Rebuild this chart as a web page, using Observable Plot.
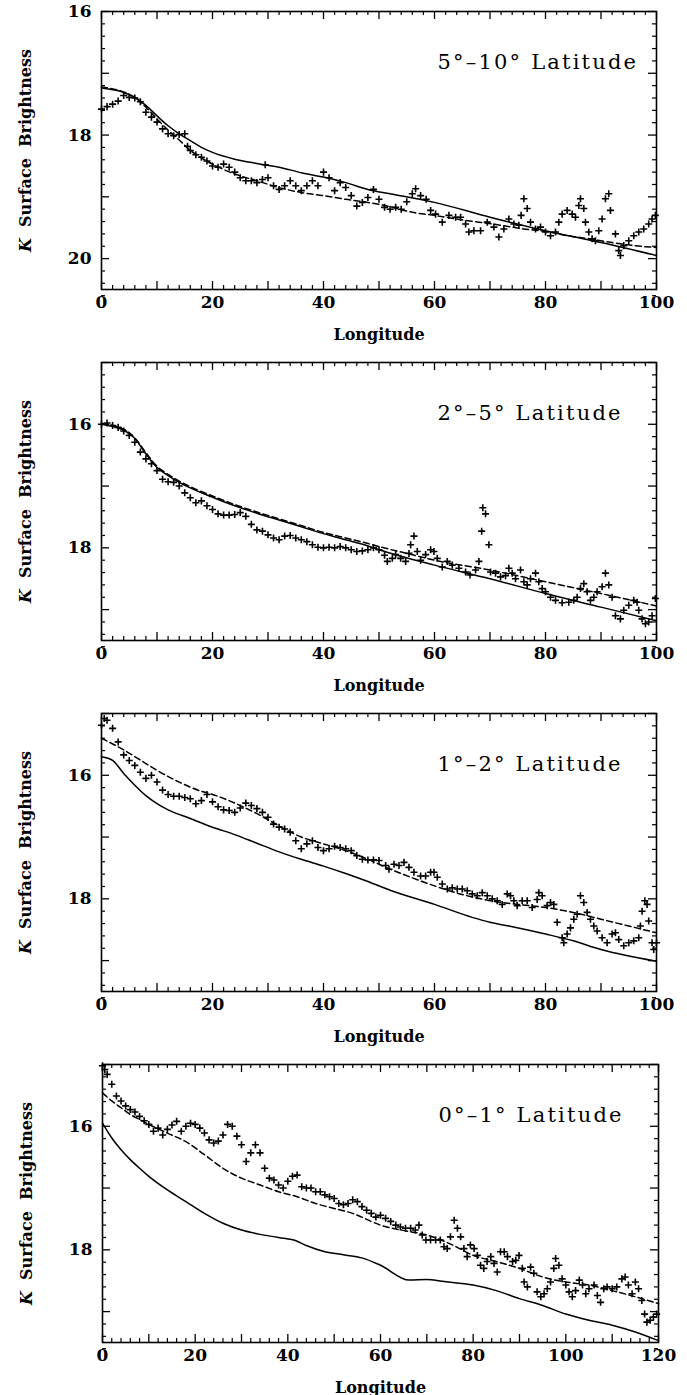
<!DOCTYPE html>
<html>
<head>
<meta charset="utf-8">
<script src="https://cdn.jsdelivr.net/npm/d3@7"></script>
<script src="https://cdn.jsdelivr.net/npm/@observablehq/plot@0.6"></script>
<style>
  html, body { margin: 0; padding: 0; background: #fff; }
  #chart svg { display: block; }
</style>
</head>
<body>
<div id="chart"></div>
<script>
// ---------- tick labels & titles ----------
const xLabels100 = [0, 20, 40, 60, 80, 100];
const xLabels120 = [0, 20, 40, 60, 80, 100, 120];
const yLabelsP1 = [16, 18, 20];
const yLabelsP234 = [16, 18];
const titles = ["5°–10° Latitude", "2°–5° Latitude", "1°–2° Latitude", "0°–1° Latitude"];
const xTitle = "Longitude";
const yTitle = "K  Surface  Brightness";

// ---------- Panel 1 (5°–10°) ----------
const p1DataLon = [0,1,2,3,4,5,6,7,8,9,10,11,12,13,14,15,15.5,16,17,18,19,20,21,22,23,24,25,26,27,28,29,29.5,30,31,32,33,34,35,36,37,38,39,40,41,42,43,44,45,46,47,48,49,50,51,52,53,54,55,56,56.6,57.5,58.5,59.3,60.2,61.4,62.6,63.8,64.7,65.6,66.2,67.1,68.3,69.5,70.7,71.6,72.5,73.4,74.3,75.2,75.6,76.1,76.7,77.3,78.2,79.1,80,80.9,81.8,82.4,83,83.9,84.8,85.4,86,86.3,86.9,87.2,87.8,88.4,89,89.6,90.2,90.8,91.4,91.7,92.6,93.2,93.5,94.1,95,95.9,96.8,97.7,98.6,99.2,99.8];
const p1DataK = [17.58,17.54,17.50,17.45,17.36,17.39,17.40,17.46,17.63,17.71,17.79,17.90,17.98,18.01,17.99,17.98,18.18,18.25,18.32,18.36,18.42,18.50,18.52,18.47,18.52,18.60,18.69,18.74,18.74,18.77,18.72,18.48,18.69,18.82,18.88,18.82,18.74,18.82,18.90,18.82,18.74,18.82,18.60,18.69,18.90,18.77,18.85,18.98,19.15,19.09,19.01,18.88,19.04,19.17,19.20,19.17,19.20,19.08,18.95,18.87,18.98,19.04,19.22,19.28,19.41,19.30,19.33,19.33,19.44,19.57,19.55,19.55,19.41,19.49,19.65,19.52,19.36,19.44,19.46,19.30,19.03,19.19,19.41,19.52,19.49,19.57,19.63,19.57,19.41,19.28,19.22,19.28,19.33,19.14,19.03,19.19,19.41,19.57,19.68,19.71,19.55,19.36,19.03,18.95,19.22,19.60,19.87,19.95,19.79,19.71,19.63,19.57,19.52,19.44,19.36,19.30];
const p1SolidLon = [0,4,6,8,10,12,14,16,18,20,24,28,32,36,40,44,48,52,60,70,80,90,100];
const p1SolidK = [17.24,17.31,17.39,17.52,17.69,17.85,17.98,18.09,18.20,18.28,18.39,18.46,18.52,18.61,18.68,18.77,18.88,18.95,19.09,19.33,19.55,19.74,19.95];
const p1DashLon = [0,6,8,10,12,14,16,18,20,24,28,32,36,40,44,48,52,56,60,64,68,72,76,80,84,88,92,96,100];
const p1DashK = [17.22,17.39,17.55,17.74,17.92,18.08,18.25,18.37,18.47,18.63,18.74,18.85,18.93,18.98,19.04,19.09,19.16,19.25,19.30,19.36,19.41,19.46,19.52,19.56,19.63,19.68,19.74,19.79,19.82];

// ---------- Panel 2 (2°–5°) ----------
const p2DataLon = [0,1,2,3,4,5,6,7,8,9,10,11,12,13,14,15,16,17,18,19,20,21,22,23,24,25,26,27,28,29,30,31,32,33,34,35,36,37,38,39,40,41,42,43,44,45,46,47,48,49,50,51,51.5,52.4,53,53.9,54.8,55.4,55.7,56.3,56.9,57.5,58.4,59.3,59.9,60.5,61.4,62.3,63.2,64.4,65.6,66.4,67.4,68,68.5,68.7,69.2,69.8,70.1,71,71.9,72.8,73.4,74,74.6,75.5,76.1,76.7,77.3,78.2,78.8,79.4,80,80.9,81.8,83,84.2,85.1,85.7,86.3,86.9,87.5,88.1,88.7,89.3,90.2,90.8,91.4,92,92.6,93.5,94.1,95,95.9,96.5,96.8,97.4,98,98.6,99.2,99.8];
const p2DataK = [16.00,15.98,16.02,16.05,16.11,16.18,16.29,16.45,16.56,16.64,16.75,16.89,16.93,16.94,17.00,17.11,17.19,17.27,17.24,17.32,17.38,17.45,17.47,17.47,17.46,17.43,17.49,17.62,17.71,17.73,17.79,17.84,17.87,17.81,17.80,17.84,17.87,17.90,17.95,17.99,18.00,17.99,18.00,17.98,18.00,18.03,18.06,18.05,18.03,18.00,18.03,18.12,18.22,18.17,18.11,18.17,18.22,18.09,17.95,17.81,18.06,18.20,18.11,18.03,18.06,18.17,18.31,18.22,18.28,18.33,18.39,18.44,18.36,18.22,17.73,17.35,17.45,17.95,18.39,18.41,18.47,18.45,18.33,18.41,18.50,18.36,18.55,18.60,18.50,18.41,18.55,18.66,18.71,18.80,18.85,18.89,18.88,18.85,18.80,18.66,18.58,18.71,18.85,18.80,18.71,18.63,18.41,18.60,18.80,19.10,19.15,19.01,18.93,18.85,18.88,19.01,19.15,19.23,19.20,19.10,18.82];
const p2SolidLon = [0,4,6,8,10,12,14,16,20,24,28,32,36,40,44,48,50,60,70,80,90,100];
const p2SolidK = [16.00,16.10,16.23,16.48,16.70,16.83,16.94,17.03,17.18,17.32,17.44,17.55,17.66,17.77,17.87,17.97,18.03,18.28,18.50,18.74,18.96,19.18];
const p2DashLon = [0,4,6,8,10,12,14,16,20,24,28,32,36,40,44,48,50,55,60,70,80,90,100];
const p2DashK = [15.99,16.08,16.22,16.46,16.68,16.81,16.92,17.01,17.16,17.30,17.42,17.53,17.64,17.75,17.84,17.93,17.98,18.09,18.20,18.36,18.55,18.74,18.94];

// ---------- Panel 3 (1°–2°) ----------
const p3DataLon = [0,0.5,1,2,3,4,5,6,7,8,9,10,11,12,13,14,15,16,17,18,19,20,21,22,23,24,25,26,27,28,29,30,31,32,33,34,35,36,37,38,39,40,41,42,43,44,45,46,47,48,49,50,51.2,51.8,52.7,53.6,54.5,55.4,56.3,57.5,58.4,59.3,59.9,60.5,61.4,62.3,63.2,64.1,65,65.9,66.8,67.7,68.6,69.5,70.4,71.3,72.2,73.1,73.7,74.3,74.9,75.8,76.7,77.6,78.5,78.8,79.4,80.3,80.9,81.5,82.1,83,83.3,83.9,84.5,85.1,85.7,86.3,86.9,87.5,88.1,88.7,89.3,90.2,91.1,92,92.6,93.2,94.1,95,95.9,96.8,97.1,97.4,97.9,98.3,98.6,99.2,99.5,100];
const p3DataK = [15.19,15.08,15.11,15.24,15.46,15.67,15.76,15.84,15.95,16.05,16.00,16.11,16.24,16.31,16.34,16.34,16.36,16.38,16.46,16.41,16.31,16.43,16.51,16.56,16.57,16.60,16.53,16.45,16.49,16.54,16.60,16.68,16.79,16.84,16.87,16.92,17.06,17.19,17.11,17.06,17.17,17.22,17.19,17.15,17.17,17.19,17.22,17.30,17.36,17.37,17.37,17.38,17.46,17.52,17.44,17.46,17.41,17.49,17.57,17.63,17.63,17.57,17.57,17.65,17.76,17.84,17.82,17.84,17.84,17.87,17.92,17.95,17.90,17.95,18.00,18.03,18.09,17.92,17.95,18.03,18.11,18.03,18.03,18.14,18.01,17.90,17.95,18.11,18.06,18.09,18.38,18.63,18.71,18.57,18.47,18.33,18.25,17.95,18.06,18.22,18.33,18.44,18.52,18.63,18.71,18.57,18.55,18.66,18.76,18.71,18.68,18.63,18.44,18.20,18.03,18.09,18.36,18.71,18.82,18.71];
const p3SolidLon = [0,2,4,6,8,10,12,16,20,24,28,32,36,40,44,48,52,60,66.8,70,73.4,80,85,90,100];
const p3SolidK = [15.70,15.76,15.97,16.16,16.33,16.46,16.56,16.70,16.84,16.96,17.10,17.24,17.36,17.47,17.59,17.72,17.86,18.09,18.30,18.38,18.44,18.57,18.68,18.82,19.01];
const p3DashLon = [0,4,8,10,14,18,20,24,28,32,36,40,44,48,52,56,60,65,70,75,80,85,90,95,100];
const p3DashK = [15.40,15.59,15.81,15.92,16.11,16.26,16.31,16.45,16.62,16.82,17.00,17.11,17.22,17.36,17.52,17.66,17.79,17.93,18.03,18.09,18.14,18.22,18.33,18.44,18.55];

// ---------- Panel 4 (0°–1°) ----------
const p4DataLon = [0,0.5,1,2,3,4,5,6,7,8,9,10,11,12,13,14,15,16,17,18,19,20,21,22,23,24,25,26,27,28,29,30,31,32,33,34,35,36,37,38,39,40,41,42,43,44,45,46,47,48,49,50,51,52,53,54,55,56,57,58,59,60,61.1,62.2,63.3,64.3,65.4,66.5,67.5,68.3,69,69.8,70.8,71.9,72.9,73.7,74.4,75.1,75.9,76.6,77.3,78,78.7,79.4,80.2,80.9,81.6,82.3,83,83.8,84.5,85.2,85.9,86.7,87.4,88.5,89.2,89.9,90.6,91,91.7,92.4,93.1,93.8,94.6,95.3,96,96.7,97.4,97.8,98.5,99.2,100,100.7,101.4,102.1,102.9,103.6,104.3,105,106.1,106.8,107.5,108.2,108.9,110,111,112.1,112.8,113.5,114.3,115,115.7,116.4,117,117.5,118.2,118.9,119.6];
const p4DataK = [15.02,15.08,15.16,15.32,15.51,15.59,15.67,15.73,15.77,15.84,15.91,15.97,16.08,16.03,16.14,16.05,15.98,15.92,16.08,16.00,15.95,15.97,16.03,16.11,16.22,16.27,16.24,16.14,15.97,16.00,16.16,16.30,16.57,16.43,16.30,16.43,16.68,16.84,16.87,16.95,17.00,16.89,16.81,16.79,16.98,17.00,17.00,17.06,17.06,17.11,17.14,17.17,17.25,17.27,17.25,17.19,17.22,17.30,17.36,17.41,17.47,17.44,17.49,17.54,17.60,17.63,17.65,17.65,17.68,17.60,17.76,17.84,17.84,17.84,17.84,17.95,17.98,17.79,17.52,17.65,17.79,17.98,18.11,17.92,17.98,18.09,18.25,18.30,18.19,18.11,18.22,18.36,18.03,18.03,18.11,18.19,18.17,18.09,18.30,18.52,18.60,18.28,18.38,18.68,18.76,18.71,18.63,18.52,18.30,18.14,18.25,18.47,18.57,18.68,18.76,18.66,18.49,18.57,18.71,18.63,18.57,18.74,18.85,18.63,18.60,18.63,18.60,18.47,18.44,18.57,18.71,18.52,18.63,18.82,19.04,19.17,19.14,19.09,19.04];
const p4SolidLon = [0,2,4,6,8,10,14,18,22,26,30,34,38,42,44,48,52,56,60,66.2,70,73.3,80,85,90,95,100,105,110,115,120];
const p4SolidK = [15.95,16.19,16.38,16.54,16.68,16.81,17.03,17.22,17.41,17.57,17.68,17.75,17.80,17.86,17.93,18.03,18.08,18.13,18.25,18.49,18.48,18.51,18.57,18.66,18.79,18.90,19.04,19.14,19.22,19.33,19.47];
const p4DashLon = [0,2,4,6,8,10,14,18,22,26,30,34,38,42,46,50,54,58,60,64.5,70,75.5,80,85,90,95,100,105,110,115,120];
const p4DashK = [15.46,15.59,15.70,15.81,15.89,15.97,16.11,16.25,16.46,16.68,16.84,16.95,17.06,17.14,17.25,17.33,17.41,17.54,17.60,17.68,17.76,17.92,18.09,18.19,18.30,18.44,18.52,18.57,18.66,18.76,18.87];

const zipPts = (lon, k) => lon.map((x, i) => ({lon: x, k: k[i]}));

const FONT = "'DejaVu Serif', serif";

function makePanel(cfg) {
  const W = 687, H = 351, mT = 11, mB = 62;
  const mL = cfg.mL, mR = cfg.mR;
  const fw = W - mL - mR, fh = H - mT - mB;
  const [y0, y1] = cfg.yDomain;
  const xMajor = d3.range(0, cfg.xMax + 0.001, 10);
  const xMinor = d3.range(0, cfg.xMax + 0.001, 2).filter(v => v % 10 !== 0);
  const yAll = d3.range(0, Math.round((y1 - y0) / 0.2) + 1).map(i => Math.round((y0 + i * 0.2) * 10) / 10);
  const yMajor = yAll.filter(v => Math.abs(v - Math.round(v)) < 1e-6);
  const yMinor = yAll.filter(v => Math.abs(v - Math.round(v)) >= 1e-6);
  const TL = 8, tl = 4;
  const svg = Plot.plot({
    width: W, height: H,
    marginLeft: mL, marginRight: mR, marginTop: mT, marginBottom: mB,
    x: {domain: [0, cfg.xMax]},
    y: {domain: [y1, y0]},
    style: {fontFamily: FONT, fontSize: "16px", color: "black", background: "white", overflow: "visible"},
    marks: [
      Plot.tickX(xMajor, {x: d => d, insetTop: fh - TL, strokeWidth: 1.3}),
      Plot.tickX(xMajor, {x: d => d, insetBottom: fh - TL, strokeWidth: 1.3}),
      Plot.tickX(xMinor, {x: d => d, insetTop: fh - tl, strokeWidth: 1.2}),
      Plot.tickX(xMinor, {x: d => d, insetBottom: fh - tl, strokeWidth: 1.2}),
      Plot.tickY(yMajor, {y: d => d, insetRight: fw - TL, strokeWidth: 1.3}),
      Plot.tickY(yMajor, {y: d => d, insetLeft: fw - TL, strokeWidth: 1.3}),
      Plot.tickY(yMinor, {y: d => d, insetRight: fw - tl, strokeWidth: 1.2}),
      Plot.tickY(yMinor, {y: d => d, insetLeft: fw - tl, strokeWidth: 1.2}),
      Plot.axisX({ticks: cfg.xLabels, tickSize: 0, tickPadding: 6, tickFormat: d => String(d), label: null,
        fontSize: 17, fontWeight: "bold", fontFamily: FONT}),
      Plot.axisY({ticks: cfg.yLabels, tickSize: 0, tickPadding: 10, tickFormat: d => String(d), label: null,
        fontSize: 17, fontWeight: "bold", fontFamily: FONT}),
      Plot.text([xTitle], {frameAnchor: "bottom", dy: 45, lineAnchor: "middle", text: d => d,
        fontSize: 16, fontWeight: "bold", fontFamily: FONT}),
      Plot.text([yTitle], {frameAnchor: "left", dx: -76, rotate: -90, lineAnchor: "middle", textAnchor: "middle",
        text: d => d, fontSize: 16, fontWeight: "bold", fontFamily: FONT}),
      Plot.text([cfg.title], {frameAnchor: "top-left", dx: 336, dy: 51, lineAnchor: "middle", textAnchor: "start",
        text: d => d, fontSize: 21, fontFamily: FONT}),
      Plot.line(zipPts(cfg.solidLon, cfg.solidK), {x: "lon", y: "k", curve: "monotone-x", stroke: "black", strokeWidth: 1.5}),
      Plot.line(zipPts(cfg.dashLon, cfg.dashK), {x: "lon", y: "k", curve: "monotone-x", stroke: "black", strokeWidth: 1.5, strokeDasharray: "6,3.5"}),
      Plot.dot(zipPts(cfg.dataLon, cfg.dataK), {x: "lon", y: "k", symbol: "plus", r: 2.4, stroke: "black", strokeWidth: 1.6}),
      Plot.frame({stroke: "black", strokeWidth: 1.6})
    ]
  });
  svg.querySelectorAll("text").forEach(t => {
    if (t.textContent === yTitle) {
      t.textContent = "";
      const ns = "http://www.w3.org/2000/svg";
      const a = document.createElementNS(ns, "tspan");
      a.setAttribute("font-style", "italic");
      a.textContent = "K";
      const b = document.createElementNS(ns, "tspan");
      b.textContent = yTitle.slice(1);
      t.appendChild(a); t.appendChild(b);
    } else if (t.textContent === cfg.title) {
      t.style.letterSpacing = "2.2px";
    }
  });
  return svg;
}

const panels = [
  {title: titles[0], dataLon: p1DataLon, dataK: p1DataK, solidLon: p1SolidLon, solidK: p1SolidK, dashLon: p1DashLon, dashK: p1DashK,
   xMax: 100, xLabels: xLabels100, yDomain: [16, 20.5], yLabels: yLabelsP1, mL: 101, mR: 31},
  {title: titles[1], dataLon: p2DataLon, dataK: p2DataK, solidLon: p2SolidLon, solidK: p2SolidK, dashLon: p2DashLon, dashK: p2DashK,
   xMax: 100, xLabels: xLabels100, yDomain: [15, 19.5], yLabels: yLabelsP234, mL: 101, mR: 31},
  {title: titles[2], dataLon: p3DataLon, dataK: p3DataK, solidLon: p3SolidLon, solidK: p3SolidK, dashLon: p3DashLon, dashK: p3DashK,
   xMax: 100, xLabels: xLabels100, yDomain: [15, 19.5], yLabels: yLabelsP234, mL: 101, mR: 31},
  {title: titles[3], dataLon: p4DataLon, dataK: p4DataK, solidLon: p4SolidLon, solidK: p4SolidK, dashLon: p4DashLon, dashK: p4DashK,
   xMax: 120, xLabels: xLabels120, yDomain: [15, 19.5], yLabels: yLabelsP234, mL: 102, mR: 29}
];

const root = document.getElementById("chart");
panels.forEach(p => root.appendChild(makePanel(p)));
</script>
</body>
</html>
